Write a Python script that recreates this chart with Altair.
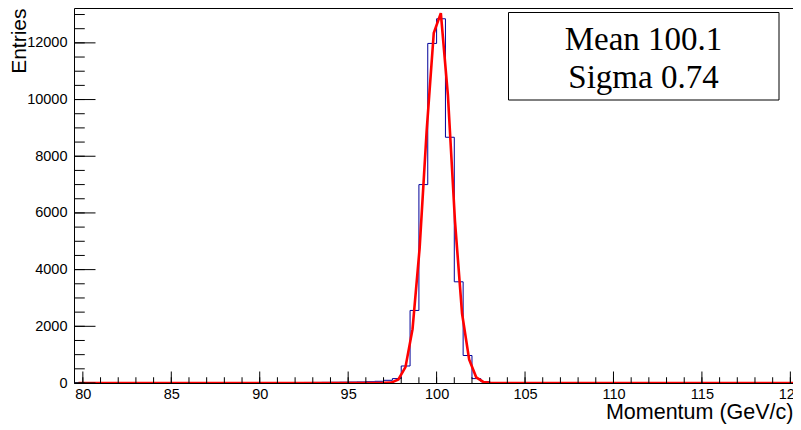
import altair as alt
import pandas as pd

# ---- histogram (bin width 0.5, starting at 79.5) ----
bin_low = 79.5
bin_width = 0.5
counts = [
    0, 0, 0, 1, 0, 1, 1, 1, 2, 2,          # 79.5 .. 84.0
    2, 3, 3, 4, 4, 5, 6, 7, 8, 9,          # 84.5 .. 89.0
    10, 11, 12, 14, 15, 17, 19, 21, 24, 27,  # 89.5 .. 94.0
    30, 34, 38, 45, 60, 95, 155, 600, 2560, 7000,  # 94.5 .. 99.0
    11980, 12850, 8670, 3570, 970, 155, 45, 12, 3, 1,  # 99.5 .. 104.0
    0, 0, 0, 0, 0, 0, 0, 0, 0, 0,
    0, 0, 0, 0, 0, 0, 0, 0, 0, 0,
    0, 0, 0, 0, 0, 0, 0, 0, 0, 0,
    0, 0,
]

# ---- gaussian fit polyline as drawn ----
fit_x = [79.75, 96.64, 97.04, 97.44, 97.84, 98.24, 98.64, 99.04, 99.44, 99.84,
         100.24, 100.64, 101.04, 101.44, 101.84, 102.24, 102.64, 103.04, 103.44, 120.25]
fit_y = [0, 0, 3, 15, 125, 560, 1900, 4750, 8910, 12350,
         13050, 10150, 5700, 2450, 830, 200, 37, 5, 0, 0]

x_major = [80, 85, 90, 95, 100, 105, 110, 115, 120]
x_minor = list(range(80, 121))
y_major = [0, 2000, 4000, 6000, 8000, 10000, 12000]
y_minor = list(range(0, 13001, 500))

stats_lines = ["Mean 100.1", "Sigma 0.74"]
x_title = "Momentum (GeV/c)"
y_title = "Entries"

W, H = 719, 375
x_domain = [79.5, 120.15]
y_domain = [0, 13230]

edges = [bin_low + bin_width * i for i in range(len(counts) + 1)]
hist_df = pd.DataFrame({"x": edges, "y": counts + [counts[-1]]})
fit_df = pd.DataFrame({"x": fit_x, "y": fit_y})

xs = alt.Scale(domain=x_domain, nice=False, zero=False)
ys = alt.Scale(domain=y_domain, nice=False, zero=False)

SANS = "Liberation Sans"
xaxis = alt.Axis(values=x_major, format="d", ticks=False, tickSize=0, domain=False, grid=False,
                 labelFont=SANS, labelFontSize=14.5, labelColor="black", labelPadding=4,
                 labelFlush=False, labelOverlap=False,
                 title=x_title, titleFont=SANS, titleFontSize=21.5, titleFontWeight="normal",
                 titleColor="black", titleX=W, titleY=35.5, titleAlign="right",
                 titleBaseline="alphabetic")
yaxis = alt.Axis(values=y_major, format="d", ticks=False, tickSize=0, domain=False, grid=False,
                 labelFont=SANS, labelFontSize=14.5, labelColor="black", labelPadding=7,
                 labelOverlap=False, labelFlush=False,
                 title=y_title, titleFont=SANS, titleFontSize=21, titleFontWeight="normal",
                 titleColor="black", titleAngle=270, titleX=-49, titleY=0,
                 titleAlign="right", titleBaseline="alphabetic")


def X():
    return alt.X("x:Q", scale=xs, axis=xaxis)


def Y():
    return alt.Y("y:Q", scale=ys, axis=yaxis)


hist = alt.Chart(hist_df).mark_line(interpolate="step-after", color="#000099", strokeWidth=1,
                                    clip=True).encode(x=X(), y=Y())
fit = alt.Chart(fit_df).mark_line(color="#ff0000", strokeWidth=2.6, clip=True).encode(x=X(), y=Y())

xt_major = alt.Chart(pd.DataFrame({"x": x_major})).mark_rule(color="black", strokeWidth=1).encode(
    x=X(), y=alt.value(H), y2=alt.value(H - 11.5))
xt_minor = alt.Chart(pd.DataFrame({"x": x_minor})).mark_rule(color="black", strokeWidth=1).encode(
    x=X(), y=alt.value(H), y2=alt.value(H - 5.75))
yt_major = alt.Chart(pd.DataFrame({"y": y_major})).mark_rule(color="black", strokeWidth=1).encode(
    y=Y(), x=alt.value(0), x2=alt.value(21.5))
yt_minor = alt.Chart(pd.DataFrame({"y": y_minor})).mark_rule(color="black", strokeWidth=1).encode(
    y=Y(), x=alt.value(0), x2=alt.value(10.75))

box = alt.Chart(pd.DataFrame({"k": [0]})).mark_rect(fill="white", stroke="black", strokeWidth=1).encode(
    x=alt.value(434.5), x2=alt.value(705), y=alt.value(4.5), y2=alt.value(92))
txt1 = alt.Chart(pd.DataFrame({"t": [stats_lines[0]]})).mark_text(
    font="Liberation Serif", fontSize=33, color="black", align="center", baseline="middle").encode(
    x=alt.value(569.5), y=alt.value(32), text="t:N")
txt2 = alt.Chart(pd.DataFrame({"t": [stats_lines[1]]})).mark_text(
    font="Liberation Serif", fontSize=33, color="black", align="center", baseline="middle").encode(
    x=alt.value(569.5), y=alt.value(70), text="t:N")

chart = alt.layer(hist, fit, xt_minor, xt_major, yt_minor, yt_major, box, txt1, txt2).properties(
    width=W, height=H,
    autosize=alt.AutoSizeParams(type="none"),
    padding={"left": 66, "top": 0, "right": 0, "bottom": 45},
    background="white",
).configure_view(stroke="black", strokeWidth=1)

chart.save("out.html", embed_options={"renderer": "svg", "actions": False})
